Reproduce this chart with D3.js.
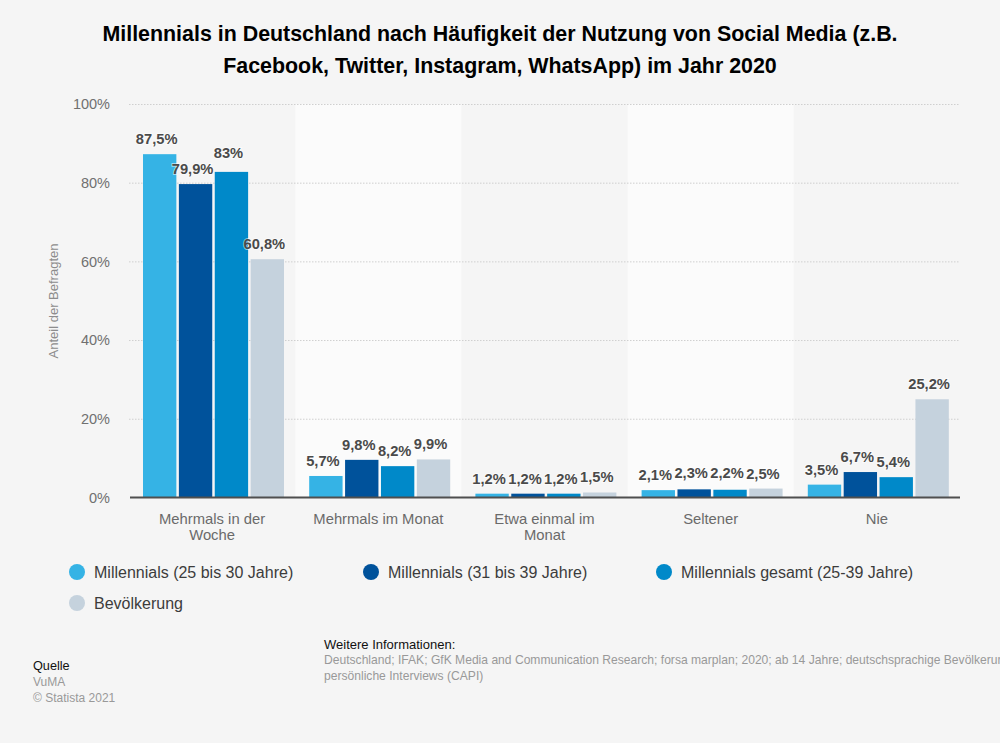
<!DOCTYPE html>
<html><head><meta charset="utf-8">
<script src="https://cdn.jsdelivr.net/npm/d3@7"></script>
<style>html,body{margin:0;padding:0;background:#f5f5f5}svg{display:block}text{font-family:"Liberation Sans",Arial,sans-serif}</style>
</head><body><svg id="c" width="1000" height="743"></svg>
<script>
const categories=[["Mehrmals in der","Woche"],["Mehrmals im Monat"],["Etwa einmal im","Monat"],["Seltener"],["Nie"]];
const seriesNames=["Millennials (25 bis 30 Jahre)","Millennials (31 bis 39 Jahre)","Millennials gesamt (25-39 Jahre)","Bevölkerung"];
const colors=["#35b3e5","#00529b","#0089c9","#c5d2dd"];
const s1=[87.5,5.7,1.2,2.1,3.5];
const s2=[79.9,9.8,1.2,2.3,6.7];
const s3=[83,8.2,1.2,2.2,5.4];
const s4=[60.8,9.9,1.5,2.5,25.2];
const series=[s1,s2,s3,s4];
const yTicks=[0,20,40,60,80,100];
const titleLines=["Millennials in Deutschland nach Häufigkeit der Nutzung von Social Media (z.B.","Facebook, Twitter, Instagram, WhatsApp) im Jahr 2020"];

const svg=d3.select("#c");
const x=d3.scaleBand().domain(d3.range(categories.length)).range([129,960]);
const x1=d3.scaleBand().domain(d3.range(series.length)).range([14,155]).paddingInner(0.07);
const y=d3.scaleLinear().domain([0,100]).range([497.4,104]);
const fmt=v=>String(v).replace(".",",")+"%";
const barInset=1;
// labels the original chart lifts to keep them clear of a neighbour: "series-category" -> px
const labelLift={"2-0":4,"2-3":2,"1-3":1};

svg.selectAll("text.t").data(titleLines).join("text").attr("class","t")
 .attr("x",500).attr("y",(d,i)=>41+i*32).attr("text-anchor","middle")
 .attr("font-size",21.4).attr("font-weight","bold").attr("fill","#000").text(d=>d);

svg.selectAll("rect.stripe").data([1,3]).join("rect").attr("class","stripe")
 .attr("x",d=>x(d)).attr("y",104).attr("width",x.bandwidth()).attr("height",393).attr("fill","#fbfbfb");

const yAxis=svg.append("g").attr("transform","translate(129,0)")
 .call(d3.axisLeft(y).tickValues(yTicks).tickFormat(d=>d+"%").tickSize(0).tickPadding(19));
yAxis.select(".domain").remove();
yAxis.selectAll("text").attr("font-size",14.5).attr("fill","#707070").style("font-family",'"Liberation Sans"');
yAxis.selectAll("line").filter(d=>d>0).attr("x2",831).attr("stroke","#cfcfcf").attr("stroke-dasharray","1.5 1.5");

svg.append("text").attr("transform","translate(58,301) rotate(-90)").attr("text-anchor","middle")
 .attr("font-size",13).attr("fill","#8c8c8c").text("Anteil der Befragten");

series.forEach((vals,si)=>{
 svg.selectAll("rect.s"+si).data(vals).join("rect").attr("class","s"+si)
  .attr("x",(d,i)=>x(i)+x1(si)).attr("width",x1.bandwidth())
  .attr("y",d=>y(d)+barInset).attr("height",d=>y(0)-y(d)-barInset).attr("fill",colors[si]);
});
series.forEach((vals,si)=>{
 svg.selectAll("text.l"+si).data(vals).join("text").attr("class","l"+si)
  .attr("x",(d,i)=>x(i)+x1(si)+x1.bandwidth()/2-3).attr("y",(d,i)=>y(d)-9-(labelLift[si+"-"+i]||0))
  .attr("text-anchor","middle").attr("font-size",14.7).attr("font-weight","bold").attr("fill","#4a4a4a")
  .attr("stroke","#ffffff").attr("stroke-opacity",0.55).attr("stroke-width",2).attr("paint-order","stroke")
  .text(fmt);
});

svg.append("line").attr("x1",130).attr("x2",960).attr("y1",y(0)).attr("y2",y(0)).attr("stroke","#4f4f4f").attr("stroke-width",2);

const xAxis=svg.append("g");
categories.forEach((lines,i)=>{
 xAxis.selectAll("text.c"+i).data(lines).join("text").attr("class","c"+i)
  .attr("x",x(i)+x.bandwidth()/2).attr("y",(d,j)=>524+j*16).attr("text-anchor","middle")
  .attr("font-size",14.8).attr("fill","#6a6a6a").text(d=>d);
});

const legX=[77,371,664,77], legY=[572,572,572,603];
const leg=svg.selectAll("g.leg").data(seriesNames).join("g").attr("class","leg")
 .attr("transform",(d,i)=>`translate(${legX[i]},${legY[i]})`);
leg.append("circle").attr("r",8).attr("fill",(d,i)=>colors[i]);
leg.append("text").attr("x",17).attr("y",6).attr("font-size",16).attr("fill","#3c3c3c").text(d=>d);

const foot=(tx,ty,fs,fill,t)=>svg.append("text").attr("x",tx).attr("y",ty).attr("font-size",fs).attr("fill",fill).text(t);
foot(33,670,12.7,"#111","Quelle");
foot(33,686,12,"#999","VuMA");
foot(33,702,12,"#999","© Statista 2021");
foot(324,649,13,"#111","Weitere Informationen:");
foot(324,664,12.1,"#999","Deutschland; IFAK; GfK Media and Communication Research; forsa marplan; 2020; ab 14 Jahre; deutschsprachige Bevölkerung;");
foot(324,680,12.1,"#999","persönliche Interviews (CAPI)");
</script></body></html>
